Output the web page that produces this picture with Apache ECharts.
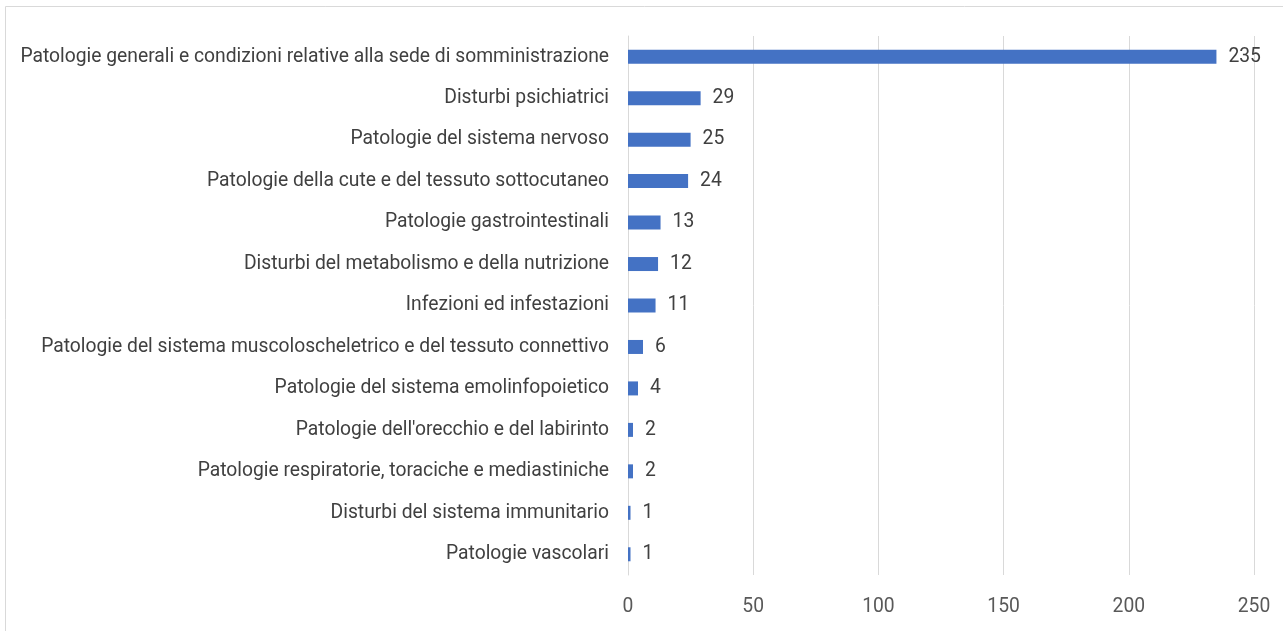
<!DOCTYPE html>
<html><head><meta charset="utf-8">
<script src="https://cdn.jsdelivr.net/npm/echarts@6/dist/echarts.min.js"></script>
<style>html,body{margin:0;padding:0;background:#fff}#c{width:1283px;height:631px}</style>
</head><body><div id="c"></div>
<script>
const categories = [
  "Patologie generali e condizioni relative alla sede di somministrazione",
  "Disturbi psichiatrici",
  "Patologie del sistema nervoso",
  "Patologie della cute e del tessuto sottocutaneo",
  "Patologie gastrointestinali",
  "Disturbi del metabolismo e della nutrizione",
  "Infezioni ed infestazioni",
  "Patologie del sistema muscoloscheletrico e del tessuto connettivo",
  "Patologie del sistema emolinfopoietico",
  "Patologie dell'orecchio e del labirinto",
  "Patologie respiratorie, toraciche e mediastiniche",
  "Disturbi del sistema immunitario",
  "Patologie vascolari"
];
const values = [235, 29, 25, 24, 13, 12, 11, 6, 4, 2, 2, 1, 1];
const FONT = "Roboto, sans-serif";
const chart = echarts.init(document.getElementById('c'));
chart.setOption({
  animation: false,
  textStyle: {fontFamily: FONT},
  graphic: [{type:'rect', shape:{x:5.5,y:6.5,width:1300,height:700}, style:{fill:'none', stroke:'#d9d9d9', lineWidth:1}, silent:true}],
  grid: {left: 628, right: 29, top: 36, bottom: 56, containLabel: false, outerBoundsMode: 'none'},
  xAxis: {
    type: 'value', min: 0, max: 250, interval: 50,
    axisLine: {show:false}, axisTick: {show:false},
    splitLine: {lineStyle: {color:'#d9d9d9', width:1}},
    axisLabel: {color:'#595959', fontSize: 19.3, margin: 23, fontFamily: FONT}
  },
  yAxis: {
    type: 'category', inverse: true, data: categories,
    axisLine: {show:true, lineStyle:{color:'#d9d9d9'}}, axisTick: {show:false},
    axisLabel: {color:'#404040', fontSize: 19.3, margin: 19, fontFamily: FONT}
  },
  series: [{
    type: 'bar', data: values, barWidth: 14,
    itemStyle: {color: '#4472C4'},
    label: {show: true, position: 'right', distance: 12, color:'#404040', fontSize: 19.3, fontFamily: FONT}
  }]
});
</script></body></html>
